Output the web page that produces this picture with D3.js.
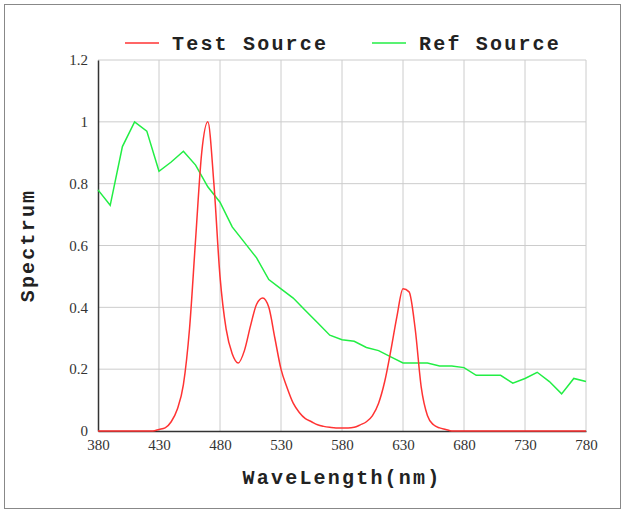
<!DOCTYPE html>
<html><head><meta charset="utf-8">
<script src="https://cdn.jsdelivr.net/npm/d3@7"></script>
<style>body{margin:0;background:#fff}</style>
</head><body>
<script>
const refWl = d3.range(380, 781, 10);
const refVals = [0.78,0.73,0.92,1.0,0.97,0.84,0.87,0.905,0.86,0.79,0.74,0.66,0.61,0.56,0.49,0.46,0.43,0.39,0.35,0.31,0.295,0.29,0.27,0.26,0.24,0.22,0.22,0.22,0.21,0.21,0.205,0.18,0.18,0.18,0.155,0.17,0.19,0.16,0.12,0.17,0.16];
const testWl = d3.range(380, 781, 5);
const testVals = [0,0,0,0,0,0,0,0,0,0,0.005,0.01,0.03,0.07,0.15,0.33,0.62,0.9,1.0,0.8,0.5,0.33,0.25,0.22,0.26,0.34,0.41,0.43,0.4,0.3,0.2,0.14,0.09,0.06,0.04,0.03,0.02,0.015,0.012,0.01,0.01,0.01,0.012,0.02,0.03,0.05,0.09,0.16,0.26,0.37,0.46,0.45,0.33,0.14,0.05,0.02,0.01,0.005,0,0,0,0,0,0,0,0,0,0,0,0,0,0,0,0,0,0,0,0,0,0,0];
const xTicks = [380,430,480,530,580,630,680,730,780];
const yTicks = [0,0.2,0.4,0.6,0.8,1,1.2];

const W = 626, H = 515, m = {l: 98, r: 40, t: 60, b: 84};
const svg = d3.select('body').append('svg').attr('width', W).attr('height', H);
svg.append('rect').attr('x', 4.5).attr('y', 4.5).attr('width', 616).attr('height', 504)
  .attr('fill', 'none').attr('stroke', '#888');

const x = d3.scaleLinear().domain([380, 780]).range([m.l, W - m.r]);
const y = d3.scaleLinear().domain([0, 1.2]).range([H - m.b, m.t]);

const grid = svg.append('g').attr('stroke', '#ccc');
grid.selectAll('.vx').data(xTicks.slice(1)).enter().append('line')
  .attr('x1', d => x(d)).attr('x2', d => x(d)).attr('y1', y(0)).attr('y2', y(1.2));
grid.selectAll('.hy').data(yTicks.slice(1)).enter().append('line')
  .attr('x1', x(380)).attr('x2', x(780)).attr('y1', d => y(d)).attr('y2', d => y(d));

const xa = svg.append('g').attr('transform', `translate(0,${y(0)})`)
  .call(d3.axisBottom(x).tickValues(xTicks).tickSize(0).tickPadding(8));
const ya = svg.append('g').attr('transform', `translate(${m.l},0)`)
  .call(d3.axisLeft(y).tickValues(yTicks).tickSize(0).tickPadding(10).tickFormat(d3.format('~g')));
[xa, ya].forEach(a => {
  a.select('.domain').attr('stroke', '#333').attr('stroke-width', 1.5);
  a.selectAll('text').attr('font-family', 'Liberation Serif').attr('font-size', 15).attr('fill', '#333');
});

const line = d3.line().x(d => x(d[0])).y(d => y(d[1]));
svg.append('path').datum(refWl.map((w, i) => [w, refVals[i]])).attr('d', line)
  .attr('fill', 'none').attr('stroke', '#22ee44').attr('stroke-width', 1.5);
svg.append('path').datum(testWl.map((w, i) => [w, testVals[i]])).attr('d', line.curve(d3.curveMonotoneX))
  .attr('fill', 'none').attr('stroke', '#ff3333').attr('stroke-width', 1.5);

const mono = 'Liberation Mono';
const lbl = sel => sel.attr('font-family', mono).attr('font-weight', 'bold').attr('font-size', 20)
  .attr('letter-spacing', 2.2).attr('fill', '#222');
svg.append('text').attr('x', (x(380) + x(780)) / 2).attr('y', 484).attr('text-anchor', 'middle')
  .call(lbl).text('WaveLength(nm)');
svg.append('text').attr('transform', `translate(34,${(y(0) + y(1.2)) / 2}) rotate(-90)`).attr('text-anchor', 'middle')
  .call(lbl).text('Spectrum');

const legend = [['Test Source', '#ff3333', 125], ['Ref Source', '#22ee44', 372]];
legend.forEach(([t, c, lx]) => {
  svg.append('line').attr('x1', lx).attr('x2', lx + 34).attr('y1', 43).attr('y2', 43).attr('stroke', c).attr('stroke-width', 1.5);
  svg.append('text').attr('x', lx + 47).attr('y', 50).call(lbl).text(t);
});
</script>
</body></html>
